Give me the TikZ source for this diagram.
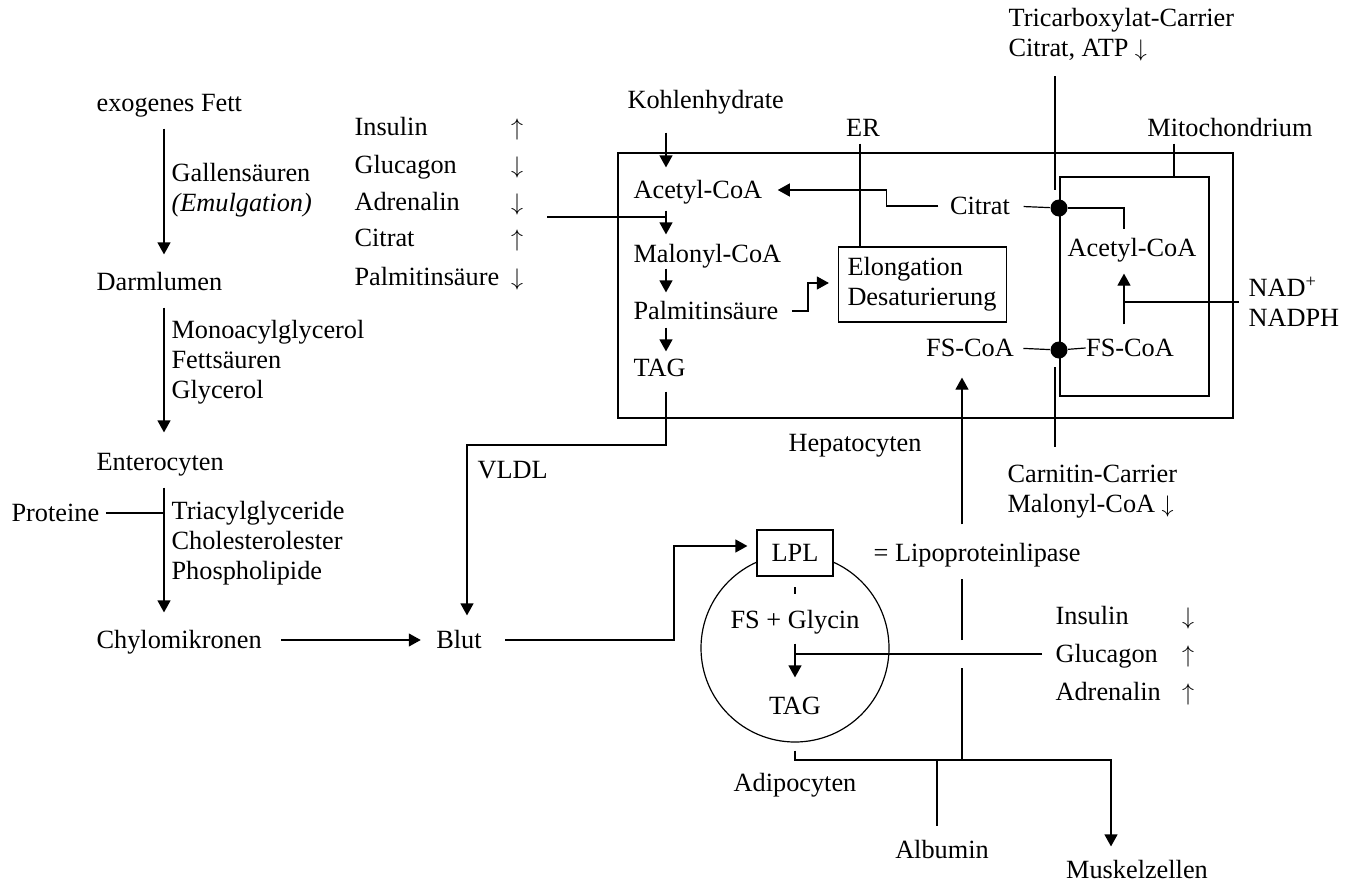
\documentclass[tikz,border=0pt]{standalone}
\usepackage{fontspec}
\setmainfont{Liberation Serif}
\usetikzlibrary{arrows.meta}

\begin{document}
\begin{tikzpicture}[x=0.5pt,y=-0.5pt,line width=0.6pt,>={Triangle[length=6pt,width=6.5pt]},
  font=\fontsize{13.15}{15}\selectfont,every node/.style={inner sep=0pt}]
  \tikzstyle{txt}=[text height=9pt,text depth=1pt]
  \tikzstyle{dot}=[circle,fill,minimum size=8.5pt]
  \useasboundingbox (0,0) rectangle (1356,884);

  \coordinate (lcol) at (164,0);
  \coordinate (hcol) at (666,0);
  \coordinate (cx) at (1055,0);
  \coordinate (mx) at (1124,0);

  \node [txt,anchor=west] (fett) at (96,103) {exogenes Fett};
  \node [txt,anchor=west] (darm) at (96,282) {Darmlumen};
  \node [txt,anchor=west] (entero) at (96,462) {Enterocyten};
  \node [txt,anchor=west] (chylo) at (96,640) {Chylomikronen};
  \node [txt,anchor=west] (prot) at (11,513) {Proteine};
  \node [anchor=west,align=left] (galle) at (171,190) {Gallensäuren\\\textit{(Emulgation)}};
  \node [anchor=west,align=left] (mono) at (171,362) {Monoacylglycerol\\Fettsäuren\\Glycerol};
  \node [anchor=west,align=left] (trig) at (171,543) {Triacylglyceride\\Cholesterolester\\Phospholipide};
  \node [txt] (blut) at (459,640) {Blut};
  \node [txt,anchor=west] (vldl) at (477,470) {VLDL};

  \draw [->,shorten <=7.5pt,shorten >=8.5pt] (fett.south -| lcol) -- (darm.north -| lcol);
  \draw [->,shorten <=7.5pt,shorten >=9.5pt] (darm.south -| lcol) -- (entero.north -| lcol);
  \draw [->,shorten <=7.5pt,shorten >=8.5pt] (entero.south -| lcol) -- (chylo.north -| lcol);
  \draw [shorten <=3pt] (prot.east) -- (prot.east -| lcol);
  \draw [->,shorten <=9.5pt,shorten >=7.5pt] (chylo.east) -- (blut.west);

  \foreach \name/\dir/\y [count=\i] in {Insulin/\uparrow/127,Glucagon/\downarrow/165,Adrenalin/\downarrow/202,Citrat/\uparrow/238,Palmitinsäure/\downarrow/277} {
    \node [txt,anchor=west] (reg\i) at (354,\y) {\name};
    \node [txt] (rega\i) at (517,\y) {$\dir$};
  }

  \node [draw,minimum width=307.5pt,minimum height=132.5pt] (hepa) at (925.5,285.5) {};
  \node [txt] (hlab) at (855,443) {Hepatocyten};
  \node [draw,minimum width=74.5pt,minimum height=109.5pt] (mito) at (1134.5,286.5) {};
  \node [txt] (mlab) at (1230,128) {Mitochondrium};
  \coordinate (mx0) at (1174,0);
  \draw [shorten <=2.5pt] (mlab.south -| mx0) -- (mito.north -| mx0);

  \node [txt,anchor=west] (kohl) at (627,100) {Kohlenhydrate};
  \node [txt,anchor=west] (acet) at (633,190) {Acetyl-CoA};
  \node [txt,anchor=west] (malo) at (633,254) {Malonyl-CoA};
  \node [txt,anchor=west] (palm) at (633,311) {Palmitinsäure};
  \node [txt,anchor=west] (tag) at (633,368) {TAG};
  \draw [->,shorten <=11pt,shorten >=6pt] (kohl.south -| hcol) -- (acet.north -| hcol);
  \draw [->,shorten <=5pt,shorten >=4.5pt] (acet.south -| hcol) -- (malo.north -| hcol);
  \draw [->,shorten <=2pt,shorten >=4pt] (malo.south -| hcol) -- (palm.north -| hcol);
  \draw [->,shorten <=3pt,shorten >=3pt] (palm.south -| hcol) -- (tag.north -| hcol);
  \coordinate (regl) at (547,217);
  \draw (regl) -- (regl -| hcol);

  \coordinate (vl) at (467,445);
  \draw [->,shorten <=6.5pt,shorten >=7pt] (tag.south -| hcol) |- (vl) -- (vl |- blut.north);

  \node [txt] (er) at (863,128) {ER};
  \node [draw,align=left,text width=75pt,inner xsep=4.5pt,minimum height=37.5pt] (elong) at (922.5,284.5) {Elongation\\Desaturierung};
  \coordinate (erx) at (860,0);
  \draw [shorten <=2.5pt] (er.south -| erx) -- (elong.north -| erx);
  \coordinate (pe) at (808,283);
  \draw [->,shorten <=6.5pt,shorten >=4.5pt] (palm.east) -| (pe) -- (pe -| elong.west);

  \node [txt] (citr) at (980,206) {Citrat};
  \draw [->,shorten <=5.5pt,shorten >=7.5pt] (citr.west) -- ++(-63,0) |- (acet.east);
  \node [txt] (cfs) at (970,348) {FS-CoA};
  \node [txt] (macet) at (1132,248) {Acetyl-CoA};
  \node [txt] (mfs) at (1130,348) {FS-CoA};
  \node [dot] (d1) at (1059,208) {};
  \node [dot] (d2) at (1059,350) {};
  \draw [shorten <=6.5pt] (citr.east) -- (d1);
  \draw [shorten >=4pt] (d1) -| (macet.north -| mx);
  \draw [shorten <=4.5pt] (cfs.east) -- (d2);
  \draw (d2) -- (mfs.west);
  \draw [->,shorten <=6.5pt,shorten >=7.5pt] (mfs.north -| mx) -- (macet.south -| mx);

  \node [anchor=west,align=left] (nad) at (1248,302) {NAD\textsuperscript{+}\\NADPH};
  \draw [shorten <=4.5pt] (nad.west) -- (nad.west -| mx);

  \node [anchor=west,align=left] (tric) at (1008,35) {Tricarboxylat-Carrier\\Citrat, ATP $\downarrow$};
  \node [anchor=west,align=left] (carn) at (1007,492) {Carnitin-Carrier\\Malonyl-CoA $\downarrow$};
  \draw [shorten <=7pt,shorten >=4.5pt] (tric.south -| cx) -- (d1.north -| cx);
  \draw [shorten <=4pt,shorten >=9pt] (d2.south -| cx) -- (carn.north -| cx);

  \node [draw,circle,minimum size=94pt] (adipo) at (795,648) {};
  \node [draw,fill=white,txt,minimum width=38pt,minimum height=23pt] (lpl) at (795,553) {LPL};
  \node [txt,anchor=west] (lip) at (873,553) {= Lipoproteinlipase};
  \node [txt] (fsg) at (795,620) {FS + Glycin};
  \node [txt] (atag) at (795,706) {TAG};
  \node [txt] (adlab) at (795,783) {Adipocyten};
  \draw [shorten <=5.25pt,shorten >=7.5pt] (lpl.south) -- (fsg.north);
  \draw [->,shorten <=6.5pt,shorten >=9pt] (fsg.south) -- (atag.north);

  \coordinate (bl) at (674,546);
  \draw [->,shorten <=11.5pt,shorten >=4.5pt] (blut.east) -| (bl) -- (bl -| lpl.west);

  \foreach \name/\dir/\y [count=\i] in {Insulin/\downarrow/616,Glucagon/\uparrow/654,Adrenalin/\uparrow/692} {
    \node [txt,anchor=west] (hor\i) at (1055,\y) {\name};
    \node [txt] (hora\i) at (1188,\y) {$\dir$};
  }
  \draw [shorten <=6.5pt] (hor2.west) -- (hor2.west -| fsg.south);

  \node [txt] (musk) at (1137,870) {Muskelzellen};
  \node [txt] (alb) at (942,850) {Albumin};
  \coordinate (bus) at (1111,760);
  \coordinate (ax) at (937,760);
  \coordinate (fx) at (962,760);
  \draw [->,shorten <=4pt,shorten >=6.5pt] (adipo.south) |- (bus) -- (bus |- musk.north);
  \draw [shorten >=6.5pt] (ax) -- (ax |- alb.north);
  \draw (fx) -- ([yshift=-7pt]fx |- hor2.west);
  \draw [shorten >=7.5pt] ([yshift=7pt]fx |- hor2.west) -- (fx |- lip.south);
  \draw [->,shorten <=9pt,shorten >=9.5pt] (fx |- lip.north) -- (fx |- cfs.south);
\end{tikzpicture}
\end{document}
